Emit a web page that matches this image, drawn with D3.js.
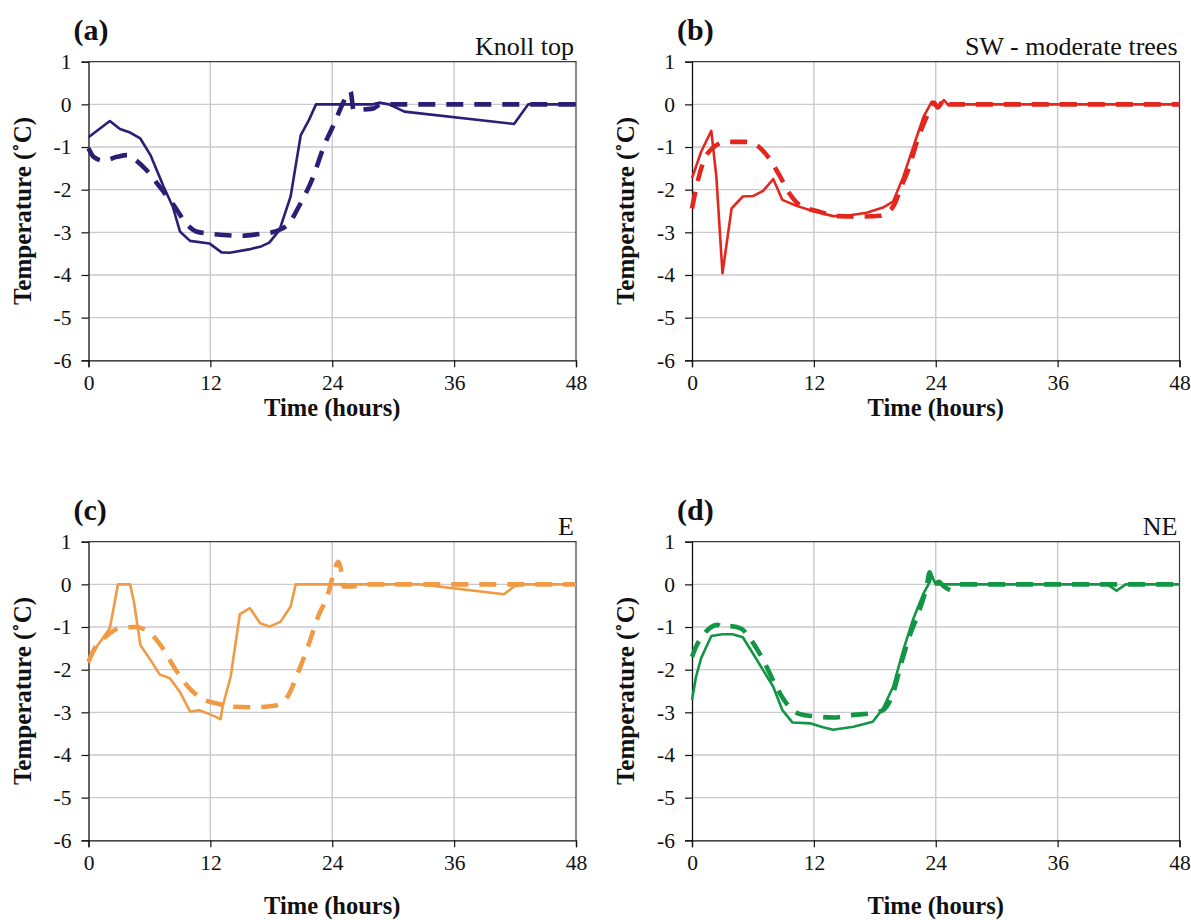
<!DOCTYPE html>
<html>
<head>
<meta charset="utf-8">
<script src="https://cdn.jsdelivr.net/npm/d3@7"></script>
<style>
  body { margin: 0; background: #fff; }
  text { font-family: "Liberation Serif", "Times New Roman", serif; fill: #111; }
</style>
</head>
<body>
<svg id="chart" width="1191" height="920"></svg>
<script>
// Axis ticks
const hourTicks = [0, 12, 24, 36, 48];
const tempTicks = [-6, -5, -4, -3, -2, -1, 0, 1];

// Temperature difference series, [hour, °C]; null marks a gap in the line
const knollSolid = [[0,-0.77],[2.1,-0.39],[3.1,-0.58],[4.1,-0.66],[5.1,-0.8],[6.1,-1.19],[7.4,-1.93],[8.3,-2.4],[9.0,-2.98],[10,-3.2],[11.9,-3.26],[13.1,-3.47],[13.9,-3.48],[15.8,-3.4],[17,-3.33],[17.8,-3.24],[18.8,-2.95],[19.9,-2.16],[20.9,-0.72],[21.7,-0.37],[22.4,0],[28,0],[28.6,0.04],[29.6,0],[31.1,-0.17],[41.9,-0.46],[43.3,0],[48,0]];
const knollDashed = [[0,-1.03],[0.5,-1.23],[1.5,-1.32],[2.8,-1.23],[3.8,-1.19],[4.6,-1.3],[5.7,-1.54],[7.0,-1.93],[8.5,-2.4],[9.6,-2.79],[10.6,-2.98],[12.2,-3.04],[15.2,-3.08],[16.8,-3.04],[18.1,-3.0],[19.7,-2.8],[20.7,-2.4],[22.0,-1.77],[23.3,-0.91],[24.2,-0.45],[25.0,0],[25.8,0.3],[26.1,-0.13],[28,-0.1],[28.8,0],[48,0]];

const swSolid = [[0,-1.73],[0.9,-1.11],[1.9,-0.62],[2.4,-1.7],[3.0,-3.96],[3.9,-2.44],[5.0,-2.16],[6.0,-2.15],[7.0,-2.03],[8.0,-1.75],[8.9,-2.24],[10.3,-2.38],[11.9,-2.5],[13.9,-2.62],[15.2,-2.61],[17.2,-2.54],[18.8,-2.42],[19.8,-2.28],[20.8,-1.7],[21.8,-0.99],[22.8,-0.29],[23.6,0.06],[24.2,-0.09],[24.8,0.1],[25.2,0],[48,0]];
const swDashed = [[0,-2.44],[0.4,-1.97],[1.2,-1.3],[2.0,-1.03],[3.4,-0.88],[5.3,-0.88],[6.6,-1.0],[7.6,-1.27],[8.6,-1.66],[9.6,-2.09],[10.6,-2.36],[12.6,-2.52],[14.5,-2.62],[16.8,-2.63],[18.5,-2.61],[19.8,-2.4],[20.6,-1.93],[21.4,-1.46],[22.1,-0.91],[23.1,-0.29],[23.8,0.04],[24.2,-0.07],[24.9,0.14],[25.3,0],[48,0]];

const eastSolid = [[0,-1.84],[0.8,-1.46],[2.1,-1.03],[2.5,-0.52],[2.9,0],[4.1,0],[4.5,-0.45],[5.1,-1.42],[6.1,-1.77],[7.0,-2.11],[8.0,-2.2],[9.0,-2.52],[10.0,-2.98],[10.9,-2.95],[12.1,-3.06],[13.0,-3.16],[13.2,-2.87],[14.0,-2.16],[14.9,-0.7],[15.9,-0.56],[16.9,-0.91],[17.8,-0.99],[18.9,-0.88],[19.9,-0.52],[20.4,0],[32.7,0],[40.9,-0.23],[41.9,-0.05],[42.6,0],[48,0]];
const eastDashed = [[0,-1.81],[0.7,-1.46],[1.7,-1.23],[3.0,-1.03],[4.6,-1.0],[5.9,-1.11],[7.2,-1.46],[8.5,-1.97],[9.8,-2.4],[11.1,-2.67],[12.8,-2.8],[14.4,-2.87],[16.4,-2.88],[18.4,-2.84],[19.6,-2.63],[20.6,-2.09],[21.6,-1.46],[22.6,-0.76],[23.6,-0.21],[24.0,0.14],[24.6,0.53],[25.0,0.14],[25.1,-0.05],[26.0,-0.05],[26.9,0],[48,0]];

const neSolid = [[0,-2.71],[0.4,-2.16],[0.9,-1.73],[1.9,-1.21],[3.0,-1.17],[4.0,-1.17],[5.0,-1.24],[6.0,-1.62],[7.0,-2.01],[8.0,-2.4],[8.9,-2.95],[9.9,-3.24],[11.7,-3.26],[12.9,-3.35],[13.9,-3.41],[15.9,-3.34],[17.8,-3.22],[18.8,-2.91],[19.8,-2.4],[20.8,-1.54],[21.8,-0.8],[22.8,-0.21],[23.4,0.05],[23.6,0.2],[24.0,0],[40.9,0],[41.8,-0.15],[42.7,0],[48,0]];
const neDashed = [[0,-1.7],[0.4,-1.46],[1.1,-1.19],[1.9,-1.0],[2.5,-0.95],[3.0,-1.0],[3.7,-0.98],[4.8,-1.03],[5.8,-1.3],[7.0,-1.77],[8.3,-2.4],[9.3,-2.79],[10.3,-3.01],[11.9,-3.09],[13.9,-3.12],[15.9,-3.06],[17.7,-3.02],[18.8,-2.95],[19.8,-2.55],[20.6,-1.85],[21.4,-1.23],[22.4,-0.6],[23.1,-0.05],[23.4,0.28],[23.8,-0.02],[24.3,0.06],[24.8,-0.05],[25.8,-0.17],null,[26.4,0],[48,0]];

const panelLetters = ["(a)", "(b)", "(c)", "(d)"];
const siteNames = ["Knoll top", "SW - moderate trees", "E", "NE"];

// Panel placement and styling
const panels = [
  { letter: panelLetters[0], site: siteNames[0], solid: knollSolid, dashed: knollDashed, color: "#2a1f75", left: 88.5, top: 61.7, titleY: 416 },
  { letter: panelLetters[1], site: siteNames[1], solid: swSolid,    dashed: swDashed,    color: "#e2271f", left: 692,  top: 61.7, titleY: 416 },
  { letter: panelLetters[2], site: siteNames[2], solid: eastSolid,  dashed: eastDashed,  color: "#f19a45", left: 88.5, top: 541.7, titleY: 914 },
  { letter: panelLetters[3], site: siteNames[3], solid: neSolid,    dashed: neDashed,    color: "#129646", left: 692,  top: 541.7, titleY: 914 }
];
const plotW = 487.5, plotH = 298.6;

const svg = d3.select("#chart");
svg.append("rect").attr("width", 1191).attr("height", 920).attr("fill", "#fff");

panels.forEach(p => {
  const g = svg.append("g").attr("transform", `translate(${p.left},${p.top})`);
  const x = d3.scaleLinear().domain([0, 48]).range([0, plotW]);
  const y = d3.scaleLinear().domain([-6, 1]).range([plotH, 0]);

  // gridlines
  g.append("g").selectAll("line").data(tempTicks.filter(t => t > -6 && t < 1)).join("line")
    .attr("x1", 0).attr("x2", plotW).attr("y1", d => y(d)).attr("y2", d => y(d))
    .attr("stroke", "#c9c9cf").attr("stroke-width", 1.4);
  g.append("g").selectAll("line").data(hourTicks.filter(t => t > 0 && t < 48)).join("line")
    .attr("y1", 0).attr("y2", plotH).attr("x1", d => x(d)).attr("x2", d => x(d))
    .attr("stroke", "#c9c9cf").attr("stroke-width", 1.4);

  // top and right frame
  g.append("path").attr("d", `M0,0H${plotW}V${plotH}`).attr("fill", "none")
    .attr("stroke", "#3a3a3a").attr("stroke-width", 1.2);

  // axes
  const yAxis = g.append("g").call(d3.axisLeft(y).tickValues(tempTicks).tickSize(7).tickPadding(10).tickFormat(d => String(d)));
  const xAxis = g.append("g").attr("transform", `translate(0,${plotH})`)
    .call(d3.axisBottom(x).tickValues(hourTicks).tickSize(7).tickPadding(7).tickFormat(d => String(d)));
  [yAxis, xAxis].forEach(a => {
    a.attr("font-family", null);
    a.select(".domain").attr("stroke", "#111").attr("stroke-width", 1.3);
    a.selectAll(".tick line").attr("stroke", "#111").attr("stroke-width", 1.2);
    a.selectAll("text").style("font-family", '"Liberation Serif", serif').style("font-size", "21.5px").attr("fill", "#111");
  });

  const line = d3.line().defined(d => d != null).x(d => x(d[0])).y(d => y(d[1]));

  g.append("path").datum(p.solid)
    .attr("d", line.curve(d3.curveLinear))
    .attr("fill", "none").attr("stroke", p.color).attr("stroke-width", 2.6)
    .attr("stroke-linejoin", "round");
  g.append("path").datum(p.dashed)
    .attr("d", line.curve(d3.curveMonotoneX))
    .attr("fill", "none").attr("stroke", p.color).attr("stroke-width", 4.6)
    .attr("stroke-dasharray", "17,11");

  // labels
  g.append("text").attr("x", -15).attr("y", -22).text(p.letter)
    .style("font-size", "30px").style("font-weight", "bold");
  g.append("text").attr("x", plotW - 2).attr("y", -7).attr("text-anchor", "end").text(p.site)
    .style("font-size", "26px");
  svg.append("text").attr("x", p.left + plotW / 2).attr("y", p.titleY).attr("text-anchor", "middle")
    .text("Time (hours)").style("font-size", "24.5px").style("font-weight", "bold");
  svg.append("text").attr("transform", `translate(${p.left - 58},${p.top + plotH / 2}) rotate(-90)`)
    .attr("text-anchor", "middle").text("Temperature (˚C)")
    .style("font-size", "25px").style("font-weight", "bold");
});
</script>
</body>
</html>
